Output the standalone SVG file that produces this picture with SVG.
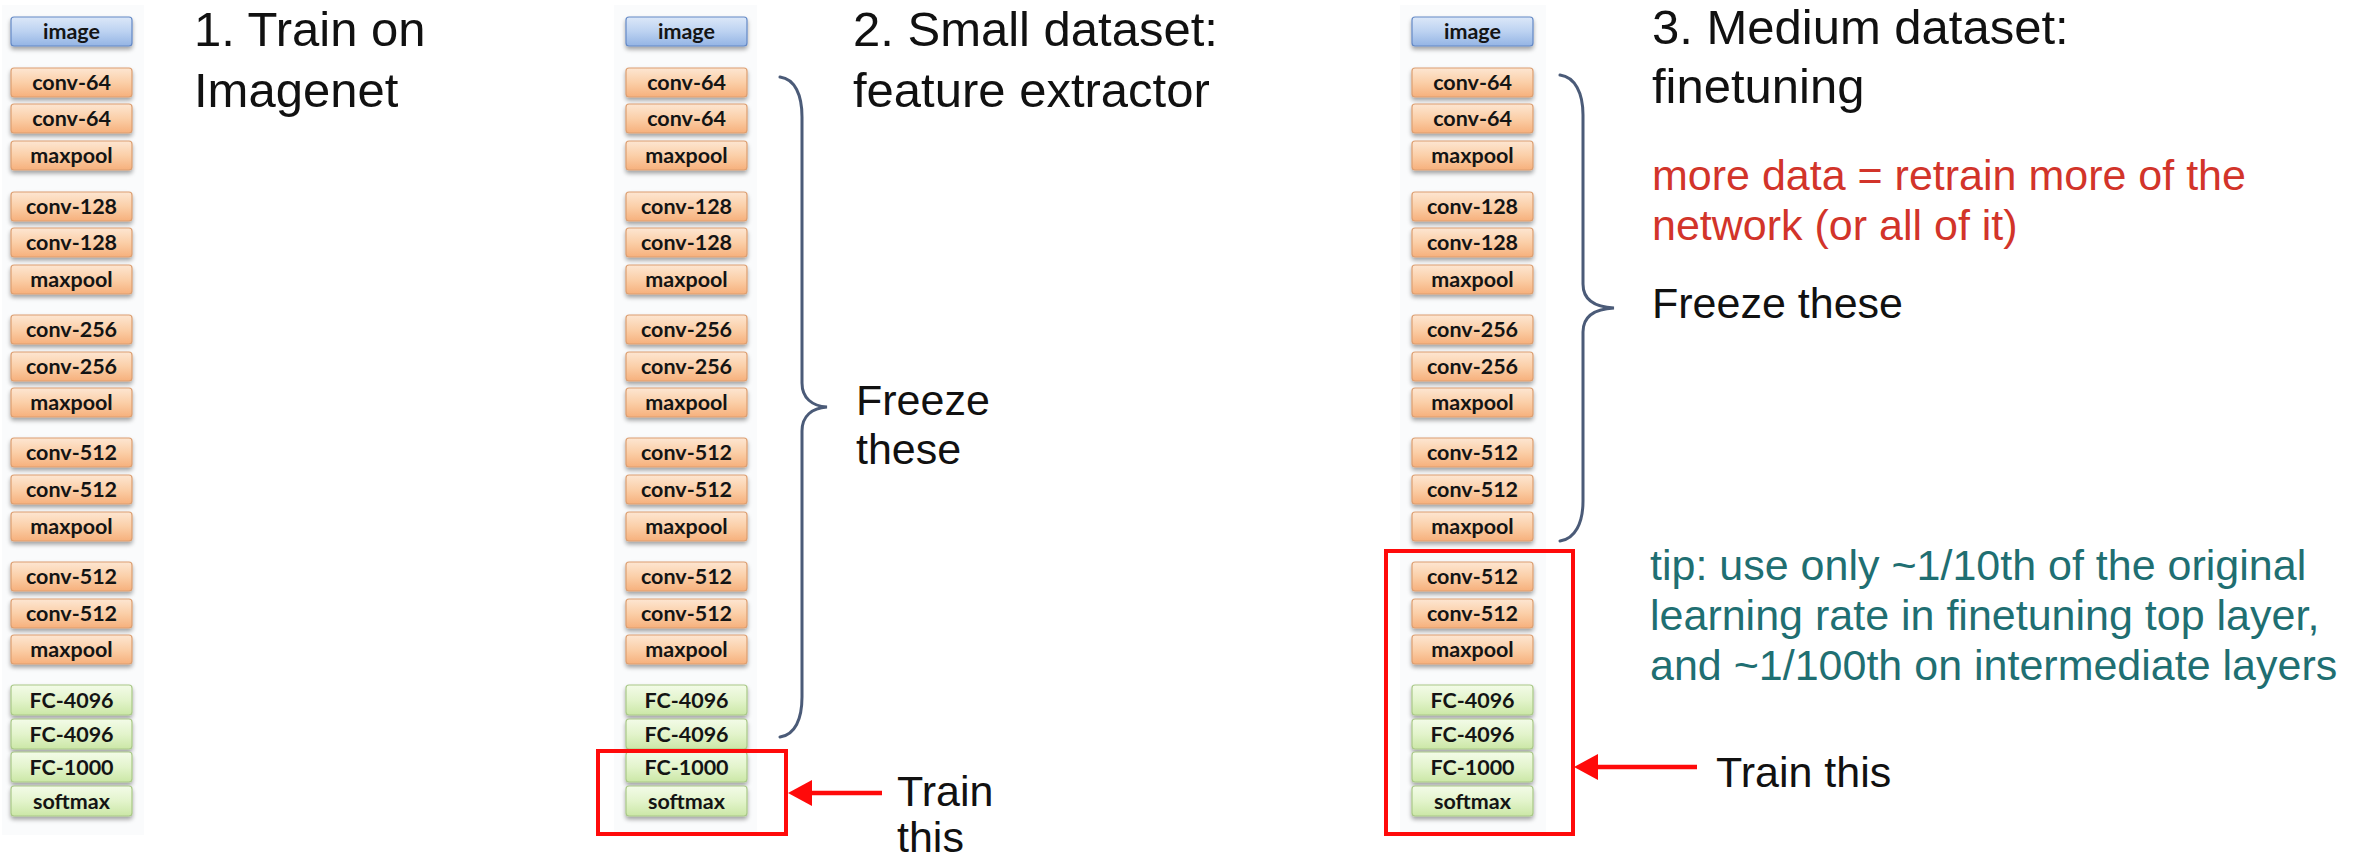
<svg xmlns="http://www.w3.org/2000/svg" width="2364" height="859" viewBox="0 0 2364 859">
<defs>
<linearGradient id="gOr" x1="0" y1="0" x2="0" y2="1"><stop offset="0" stop-color="#fde6d2"/><stop offset="0.5" stop-color="#fbcfa8"/><stop offset="1" stop-color="#f6b07c"/></linearGradient>
<linearGradient id="gBl" x1="0" y1="0" x2="0" y2="1"><stop offset="0" stop-color="#dce8f8"/><stop offset="0.5" stop-color="#bcd2f1"/><stop offset="1" stop-color="#94b4e4"/></linearGradient>
<linearGradient id="gGr" x1="0" y1="0" x2="0" y2="1"><stop offset="0" stop-color="#f3fbe8"/><stop offset="0.5" stop-color="#e3f4cc"/><stop offset="1" stop-color="#cbe7a6"/></linearGradient>
<filter id="sh" x="-10%" y="-20%" width="120%" height="160%"><feDropShadow dx="0" dy="3" stdDeviation="2" flood-color="#000" flood-opacity="0.35"/></filter>
</defs>
<style>
.or{fill:url(#gOr);stroke:#dc9e70;stroke-width:1.2;filter:url(#sh)}
.bl{fill:url(#gBl);stroke:#6489c6;stroke-width:1.2;filter:url(#sh)}
.gr{fill:url(#gGr);stroke:#a9c887;stroke-width:1.2;filter:url(#sh)}
.bt{font-family:Lato,"Liberation Sans",sans-serif;font-weight:700;font-size:21.5px;fill:#141414;text-anchor:middle}
.ti{font-family:"Liberation Sans",Arial,sans-serif;font-size:49px;fill:#111}
.tx{font-family:"Liberation Sans",Arial,sans-serif;font-size:43px;fill:#111}
.red{fill:#d2342a}
.teal{fill:#1f6f72}
.brace{fill:none;stroke:#4b5b78;stroke-width:3;stroke-linecap:round}
.rbox{fill:none;stroke:#ff0a0a;stroke-width:4}
.arr{stroke:#ff0a0a;stroke-width:4.5}
.ah{fill:#ff0a0a}
.panel{fill:#fafbfc}
</style>
<rect class="panel" x="2" y="5" width="142" height="830"/>
<rect class="panel" x="614" y="5" width="143" height="830"/>
<rect class="panel" x="1400" y="5" width="146" height="830"/>

<g id="col1">
<g id="c1-image"><rect class="bl" x="11" y="17" width="121" height="29" rx="3"/><text class="bt" x="71.5" y="38.5">image</text></g>
<g id="c1-conv64a"><rect class="or" x="11" y="68" width="121" height="29" rx="3"/><text class="bt" x="71.5" y="89.5">conv-64</text></g>
<g id="c1-conv64b"><rect class="or" x="11" y="104" width="121" height="29" rx="3"/><text class="bt" x="71.5" y="125.5">conv-64</text></g>
<g id="c1-pool1"><rect class="or" x="11" y="141" width="121" height="29" rx="3"/><text class="bt" x="71.5" y="162.5">maxpool</text></g>
<g id="c1-conv128a"><rect class="or" x="11" y="192" width="121" height="29" rx="3"/><text class="bt" x="71.5" y="213.5">conv-128</text></g>
<g id="c1-conv128b"><rect class="or" x="11" y="228" width="121" height="29" rx="3"/><text class="bt" x="71.5" y="249.5">conv-128</text></g>
<g id="c1-pool2"><rect class="or" x="11" y="265" width="121" height="29" rx="3"/><text class="bt" x="71.5" y="286.5">maxpool</text></g>
<g id="c1-conv256a"><rect class="or" x="11" y="315" width="121" height="29" rx="3"/><text class="bt" x="71.5" y="336.5">conv-256</text></g>
<g id="c1-conv256b"><rect class="or" x="11" y="352" width="121" height="29" rx="3"/><text class="bt" x="71.5" y="373.5">conv-256</text></g>
<g id="c1-pool3"><rect class="or" x="11" y="388" width="121" height="29" rx="3"/><text class="bt" x="71.5" y="409.5">maxpool</text></g>
<g id="c1-conv512a"><rect class="or" x="11" y="438" width="121" height="29" rx="3"/><text class="bt" x="71.5" y="459.5">conv-512</text></g>
<g id="c1-conv512b"><rect class="or" x="11" y="475" width="121" height="29" rx="3"/><text class="bt" x="71.5" y="496.5">conv-512</text></g>
<g id="c1-pool4"><rect class="or" x="11" y="512" width="121" height="29" rx="3"/><text class="bt" x="71.5" y="533.5">maxpool</text></g>
<g id="c1-conv512c"><rect class="or" x="11" y="562" width="121" height="29" rx="3"/><text class="bt" x="71.5" y="583.5">conv-512</text></g>
<g id="c1-conv512d"><rect class="or" x="11" y="599" width="121" height="29" rx="3"/><text class="bt" x="71.5" y="620.5">conv-512</text></g>
<g id="c1-pool5"><rect class="or" x="11" y="635" width="121" height="29" rx="3"/><text class="bt" x="71.5" y="656.5">maxpool</text></g>
<g id="c1-fc1"><rect class="gr" x="11" y="685" width="121" height="30" rx="3"/><text class="bt" x="71.5" y="707.5">FC-4096</text></g>
<g id="c1-fc2"><rect class="gr" x="11" y="719" width="121" height="30" rx="3"/><text class="bt" x="71.5" y="741.5">FC-4096</text></g>
<g id="c1-fc3"><rect class="gr" x="11" y="752" width="121" height="30" rx="3"/><text class="bt" x="71.5" y="774.5">FC-1000</text></g>
<g id="c1-soft"><rect class="gr" x="11" y="786" width="121" height="30" rx="3"/><text class="bt" x="71.5" y="808.5">softmax</text></g>
</g>

<g id="col2">
<g id="c2-image"><rect class="bl" x="626" y="17" width="121" height="29" rx="3"/><text class="bt" x="686.5" y="38.5">image</text></g>
<g id="c2-conv64a"><rect class="or" x="626" y="68" width="121" height="29" rx="3"/><text class="bt" x="686.5" y="89.5">conv-64</text></g>
<g id="c2-conv64b"><rect class="or" x="626" y="104" width="121" height="29" rx="3"/><text class="bt" x="686.5" y="125.5">conv-64</text></g>
<g id="c2-pool1"><rect class="or" x="626" y="141" width="121" height="29" rx="3"/><text class="bt" x="686.5" y="162.5">maxpool</text></g>
<g id="c2-conv128a"><rect class="or" x="626" y="192" width="121" height="29" rx="3"/><text class="bt" x="686.5" y="213.5">conv-128</text></g>
<g id="c2-conv128b"><rect class="or" x="626" y="228" width="121" height="29" rx="3"/><text class="bt" x="686.5" y="249.5">conv-128</text></g>
<g id="c2-pool2"><rect class="or" x="626" y="265" width="121" height="29" rx="3"/><text class="bt" x="686.5" y="286.5">maxpool</text></g>
<g id="c2-conv256a"><rect class="or" x="626" y="315" width="121" height="29" rx="3"/><text class="bt" x="686.5" y="336.5">conv-256</text></g>
<g id="c2-conv256b"><rect class="or" x="626" y="352" width="121" height="29" rx="3"/><text class="bt" x="686.5" y="373.5">conv-256</text></g>
<g id="c2-pool3"><rect class="or" x="626" y="388" width="121" height="29" rx="3"/><text class="bt" x="686.5" y="409.5">maxpool</text></g>
<g id="c2-conv512a"><rect class="or" x="626" y="438" width="121" height="29" rx="3"/><text class="bt" x="686.5" y="459.5">conv-512</text></g>
<g id="c2-conv512b"><rect class="or" x="626" y="475" width="121" height="29" rx="3"/><text class="bt" x="686.5" y="496.5">conv-512</text></g>
<g id="c2-pool4"><rect class="or" x="626" y="512" width="121" height="29" rx="3"/><text class="bt" x="686.5" y="533.5">maxpool</text></g>
<g id="c2-conv512c"><rect class="or" x="626" y="562" width="121" height="29" rx="3"/><text class="bt" x="686.5" y="583.5">conv-512</text></g>
<g id="c2-conv512d"><rect class="or" x="626" y="599" width="121" height="29" rx="3"/><text class="bt" x="686.5" y="620.5">conv-512</text></g>
<g id="c2-pool5"><rect class="or" x="626" y="635" width="121" height="29" rx="3"/><text class="bt" x="686.5" y="656.5">maxpool</text></g>
<g id="c2-fc1"><rect class="gr" x="626" y="685" width="121" height="30" rx="3"/><text class="bt" x="686.5" y="707.5">FC-4096</text></g>
<g id="c2-fc2"><rect class="gr" x="626" y="719" width="121" height="30" rx="3"/><text class="bt" x="686.5" y="741.5">FC-4096</text></g>
<g id="c2-fc3"><rect class="gr" x="626" y="752" width="121" height="30" rx="3"/><text class="bt" x="686.5" y="774.5">FC-1000</text></g>
<g id="c2-soft"><rect class="gr" x="626" y="786" width="121" height="30" rx="3"/><text class="bt" x="686.5" y="808.5">softmax</text></g>
</g>

<g id="col3">
<g id="c3-image"><rect class="bl" x="1412" y="17" width="121" height="29" rx="3"/><text class="bt" x="1472.5" y="38.5">image</text></g>
<g id="c3-conv64a"><rect class="or" x="1412" y="68" width="121" height="29" rx="3"/><text class="bt" x="1472.5" y="89.5">conv-64</text></g>
<g id="c3-conv64b"><rect class="or" x="1412" y="104" width="121" height="29" rx="3"/><text class="bt" x="1472.5" y="125.5">conv-64</text></g>
<g id="c3-pool1"><rect class="or" x="1412" y="141" width="121" height="29" rx="3"/><text class="bt" x="1472.5" y="162.5">maxpool</text></g>
<g id="c3-conv128a"><rect class="or" x="1412" y="192" width="121" height="29" rx="3"/><text class="bt" x="1472.5" y="213.5">conv-128</text></g>
<g id="c3-conv128b"><rect class="or" x="1412" y="228" width="121" height="29" rx="3"/><text class="bt" x="1472.5" y="249.5">conv-128</text></g>
<g id="c3-pool2"><rect class="or" x="1412" y="265" width="121" height="29" rx="3"/><text class="bt" x="1472.5" y="286.5">maxpool</text></g>
<g id="c3-conv256a"><rect class="or" x="1412" y="315" width="121" height="29" rx="3"/><text class="bt" x="1472.5" y="336.5">conv-256</text></g>
<g id="c3-conv256b"><rect class="or" x="1412" y="352" width="121" height="29" rx="3"/><text class="bt" x="1472.5" y="373.5">conv-256</text></g>
<g id="c3-pool3"><rect class="or" x="1412" y="388" width="121" height="29" rx="3"/><text class="bt" x="1472.5" y="409.5">maxpool</text></g>
<g id="c3-conv512a"><rect class="or" x="1412" y="438" width="121" height="29" rx="3"/><text class="bt" x="1472.5" y="459.5">conv-512</text></g>
<g id="c3-conv512b"><rect class="or" x="1412" y="475" width="121" height="29" rx="3"/><text class="bt" x="1472.5" y="496.5">conv-512</text></g>
<g id="c3-pool4"><rect class="or" x="1412" y="512" width="121" height="29" rx="3"/><text class="bt" x="1472.5" y="533.5">maxpool</text></g>
<g id="c3-conv512c"><rect class="or" x="1412" y="562" width="121" height="29" rx="3"/><text class="bt" x="1472.5" y="583.5">conv-512</text></g>
<g id="c3-conv512d"><rect class="or" x="1412" y="599" width="121" height="29" rx="3"/><text class="bt" x="1472.5" y="620.5">conv-512</text></g>
<g id="c3-pool5"><rect class="or" x="1412" y="635" width="121" height="29" rx="3"/><text class="bt" x="1472.5" y="656.5">maxpool</text></g>
<g id="c3-fc1"><rect class="gr" x="1412" y="685" width="121" height="30" rx="3"/><text class="bt" x="1472.5" y="707.5">FC-4096</text></g>
<g id="c3-fc2"><rect class="gr" x="1412" y="719" width="121" height="30" rx="3"/><text class="bt" x="1472.5" y="741.5">FC-4096</text></g>
<g id="c3-fc3"><rect class="gr" x="1412" y="752" width="121" height="30" rx="3"/><text class="bt" x="1472.5" y="774.5">FC-1000</text></g>
<g id="c3-soft"><rect class="gr" x="1412" y="786" width="121" height="30" rx="3"/><text class="bt" x="1472.5" y="808.5">softmax</text></g>
</g>

<g id="train-box-2"><rect class="rbox" x="598" y="751" width="188" height="83"/></g>
<g id="train-box-3"><rect class="rbox" x="1386" y="551" width="187" height="283"/></g>

<g id="connectors">
<path class="brace" d="M780,77 C795,79 802,95 802,117 L802,383 C802,398 812,406 827,407 C812,408 802,416 802,431 L802,697 C802,719 795,735 780,737"/>
<path class="brace" d="M1560,75 C1575,77 1583,93 1583,115 L1583,284 C1583,299 1594,307 1614,308 C1594,309 1583,317 1583,332 L1583,501 C1583,523 1575,539 1560,541"/>
<line class="arr" x1="882" y1="793" x2="810" y2="793"/>
<polygon class="ah" points="788,793 812,780 812,806"/>
<line class="arr" x1="1697" y1="767" x2="1596" y2="767"/>
<polygon class="ah" points="1574,767 1598,754 1598,780"/>
</g>

<g id="labels">
<text class="ti" x="194" y="46">1. Train on</text>
<text class="ti" x="194" y="107">Imagenet</text>
<text class="ti" x="853" y="46">2. Small dataset:</text>
<text class="ti" x="853" y="107">feature extractor</text>
<text class="ti" x="1652" y="44">3. Medium dataset:</text>
<text class="ti" x="1652" y="103">finetuning</text>
<text class="tx" x="856" y="415">Freeze</text>
<text class="tx" x="856" y="464">these</text>
<text class="tx" x="897" y="806">Train</text>
<text class="tx" x="897" y="852">this</text>
<text class="tx red" x="1652" y="190">more data = retrain more of the</text>
<text class="tx red" x="1652" y="240">network (or all of it)</text>
<text class="tx" x="1652" y="318">Freeze these</text>
<text class="tx teal" x="1650" y="580">tip: use only ~1/10th of the original</text>
<text class="tx teal" x="1650" y="630">learning rate in finetuning top layer,</text>
<text class="tx teal" x="1650" y="680">and ~1/100th on intermediate layers</text>
<text class="tx" x="1716" y="787">Train this</text>
</g>
</svg>
